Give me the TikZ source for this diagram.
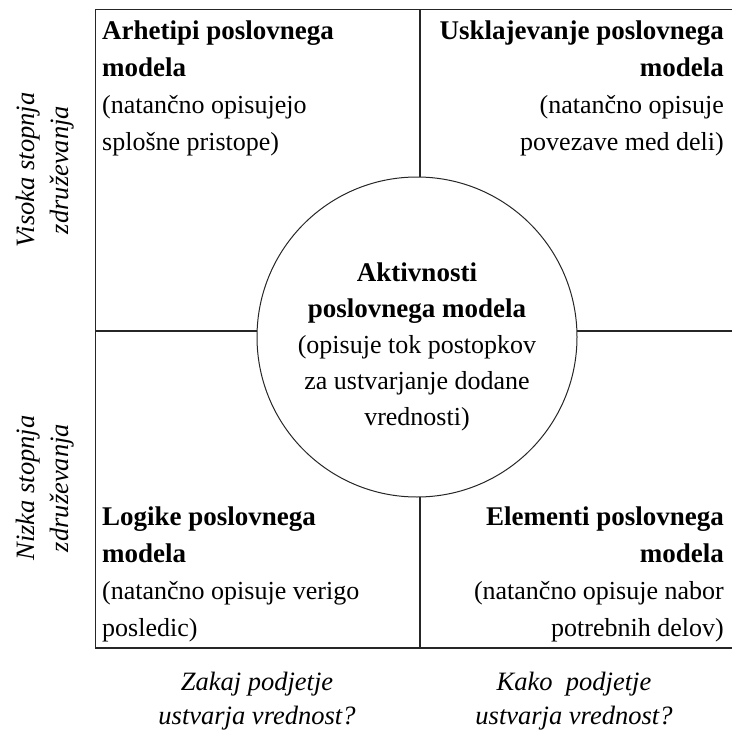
\documentclass[tikz,border=0pt]{standalone}
\usepackage{fontspec}
\setmainfont{Liberation Serif}
\newcommand{\bt}[1]{{\fontsize{27}{37}\selectfont\bfseries #1}}
\begin{document}
\begin{tikzpicture}[x=1pt,y=-1pt,
  txt/.style={inner sep=0pt, font=\fontsize{26}{37}\selectfont},
  ctxt/.style={inner sep=0pt, font=\fontsize{26}{36}\selectfont},
  itxt/.style={inner sep=0pt, font=\fontsize{26.5}{34}\selectfont\itshape},
  ln/.style={line width=1.2pt, black!85}]
\useasboundingbox (0,0) rectangle (731,733);
\coordinate (TL) at (95.5,9.5);
\coordinate (BR) at (740,648);
\coordinate (MT) at (420,9.5);
\coordinate (MB) at (420,648);
\coordinate (ML) at (95.5,331);
\coordinate (MR) at (740,331);
\draw[ln] (TL) rectangle (BR);
\draw[ln] (MT) -- (MB);
\draw[ln] (ML) -- (MR);
\node[circle, draw=black!85, fill=white, minimum size=320pt, inner sep=0pt, line width=1pt] (C) at (417,337) {};
\node[ctxt, align=center, anchor=base] (ctext) at (417,425)
  {\bt{Aktivnosti}\\\bt{poslovnega modela}\\(opisuje tok postopkov\\za ustvarjanje dodane\\vrednosti)};
\node[txt, align=left, anchor=base west] (tl) at (102,150)
  {\bt{Arhetipi poslovnega}\\\bt{modela}\\(natančno opisujejo\\splošne pristope)};
\node[txt, align=right, anchor=base east] (tr) at (724,150)
  {\bt{Usklajevanje poslovnega}\\\bt{modela}\\(natančno opisuje\\povezave med deli)};
\node[txt, align=left, anchor=base west] (bl) at (102,636)
  {\bt{Logike poslovnega}\\\bt{modela}\\(natančno opisuje verigo\\posledic)};
\node[txt, align=right, anchor=base east] (br) at (724,636)
  {\bt{Elementi poslovnega}\\\bt{modela}\\(natančno opisuje nabor\\potrebnih delov)};
\node[itxt, align=center, rotate=90] (hi) at (45,170) {Visoka stopnja\\združevanja};
\node[itxt, align=center, rotate=90] (lo) at (45,488) {Nizka stopnja\\združevanja};
\node[itxt, align=center, anchor=base] (why) at (257,724) {Zakaj podjetje\\ustvarja vrednost?};
\node[itxt, align=center, anchor=base] (how) at (574,724) {Kako\ \ podjetje\\ustvarja vrednost?};
\end{tikzpicture}
\end{document}
